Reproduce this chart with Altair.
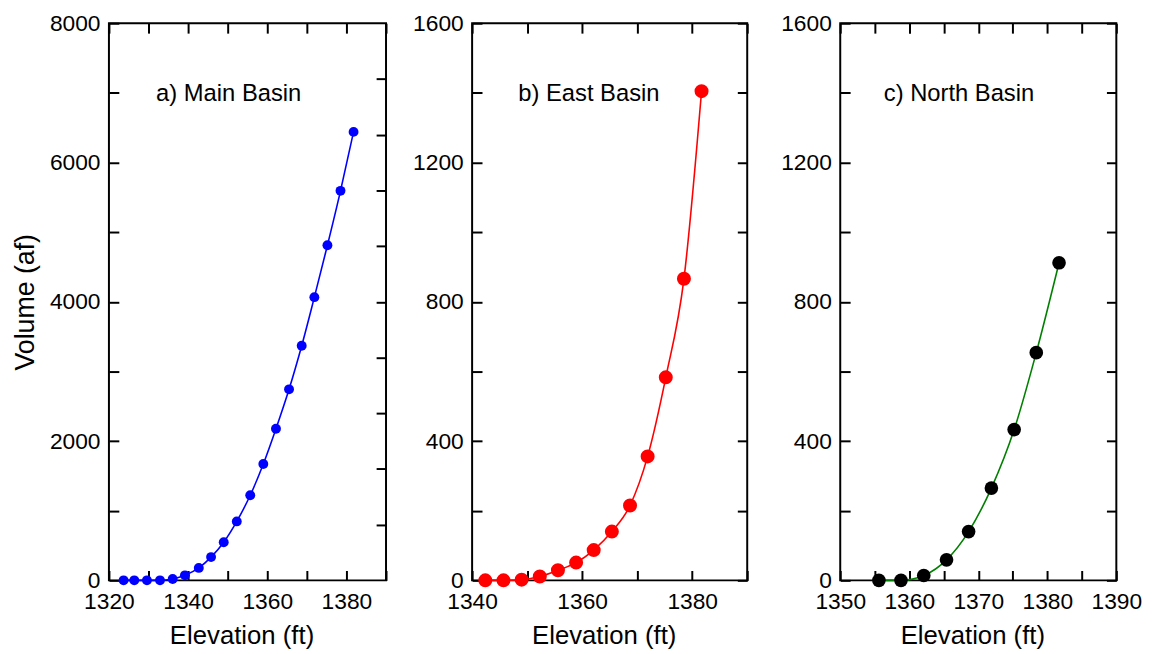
import altair as alt
import pandas as pd

# ---- data ----
main_elev = [1323.7, 1326.4, 1329.6, 1332.9, 1336.1, 1339.2, 1342.7, 1345.8, 1349.0,
             1352.3, 1355.7, 1359.0, 1362.2, 1365.5, 1368.7, 1371.9, 1375.2, 1378.5, 1381.8]
main_vol = [0, 0, 0, 0, 20, 72, 179, 334, 548, 847, 1222, 1670, 2177, 2743, 3369,
            4067, 4812, 5593, 6440]

east_elev = [1342.4, 1345.7, 1349.0, 1352.3, 1355.6, 1358.9, 1362.1, 1365.4, 1368.7,
             1371.9, 1375.2, 1378.5, 1381.7]
east_vol = [0, 0, 2, 11, 29, 51, 87, 140, 215, 356, 583, 866, 1405]

north_elev = [1355.6, 1358.8, 1362.1, 1365.4, 1368.6, 1371.9, 1375.2, 1378.4, 1381.7]
north_vol = [0, 0, 14, 59, 140, 265, 433, 654, 912]

panel_labels = ["a) Main Basin", "b) East Basin", "c) North Basin"]

x_title = "Elevation (ft)"
y_title = "Volume (af)"

FONT = "Liberation Sans"


def label_expr(labelled):
    arr = "[" + ",".join(str(v) for v in labelled) + "]"
    return f"indexof({arr}, datum.value) >= 0 ? datum.label : ''"


def make_axis(orient, values, labelled=None, title=None, labels=True, pad=8, tpad=8,
              title_size=27, title_x=None):
    kw = dict(
        orient=orient, values=values, domain=False, ticks=True, tickSize=10,
        offset=-10, tickColor="black", tickWidth=2, grid=False,
        labelFontSize=23, labelFont=FONT, labelColor="black", labelPadding=pad,
        labelFlush=False, labelOverlap=False, format="d",
        titleFontSize=title_size, titleFont=FONT, titleFontWeight="normal",
        titleColor="black", titlePadding=tpad,
    )
    if title_x is not None:
        kw["titleX"] = title_x
    if labels:
        kw["labelExpr"] = label_expr(labelled)
    else:
        kw["labels"] = False
    kw["title"] = title if title is not None else ""
    return alt.Axis(**kw)


def panel(elev, vol, label, line_color, point_color, point_size, width,
          xdom, xticks_b, xlabels, xticks_t, ydom, yticks_l, ylabels, yticks_r,
          ytitle, text_x):
    df = pd.DataFrame({"Elevation": elev, "Volume": vol})
    xs = alt.Scale(domain=xdom, nice=False, zero=False)
    ys = alt.Scale(domain=ydom, nice=False, zero=False)

    line = alt.Chart(df).mark_line(
        interpolate="monotone", color=line_color, strokeWidth=1.6
    ).encode(
        x=alt.X("Elevation:Q", scale=xs,
                axis=make_axis("bottom", xticks_b, xlabels, x_title, pad=10, tpad=10,
                               title_size=26, title_x=width / 2 - 6)),
        y=alt.Y("Volume:Q", scale=ys,
                axis=make_axis("left", yticks_l, ylabels, ytitle, pad=9, tpad=10)),
    )
    pts = alt.Chart(df).mark_circle(
        size=point_size, color=point_color, opacity=1
    ).encode(
        x=alt.X("Elevation:Q", scale=xs, axis=make_axis("top", xticks_t, labels=False)),
        y=alt.Y("Volume:Q", scale=ys, axis=make_axis("right", yticks_r, labels=False)),
    )
    txt = alt.Chart(pd.DataFrame({"t": [label]})).mark_text(
        fontSize=24, font=FONT, color="black", align="center", baseline="middle"
    ).encode(text="t:N", x=alt.value(text_x), y=alt.value(72))

    return alt.layer(line, pts, txt).resolve_axis(
        x="independent", y="independent"
    ).properties(width=width, height=563)


a = panel(main_elev, main_vol, panel_labels[0], "#0000ff", "#0000ff", 100, 280,
          [1320, 1390], list(range(1320, 1391, 10)), [1320, 1340, 1360, 1380],
          list(range(1320, 1391, 10)), [0, 8000],
          list(range(0, 8001, 1000)), [0, 2000, 4000, 6000, 8000],
          list(range(800, 8000, 800)), y_title, 121)

b = panel(east_elev, east_vol, panel_labels[1], "#ff0000", "#ff0000", 200, 278,
          [1340, 1390], list(range(1340, 1391, 10)), [1340, 1360, 1380],
          list(range(1340, 1391, 10)), [0, 1600],
          list(range(0, 1601, 200)), [0, 400, 800, 1200, 1600],
          list(range(0, 1601, 200)), None, 118)

c = panel(north_elev, north_vol, panel_labels[2], "#008000", "#000000", 190, 279,
          [1350, 1390], list(range(1350, 1391, 5)), [1350, 1360, 1370, 1380, 1390],
          list(range(1350, 1391, 5)), [0, 1600],
          list(range(0, 1601, 200)), [0, 400, 800, 1200, 1600],
          list(range(0, 1601, 200)), None, 120)

right_pair = alt.hconcat(b, c, spacing=94, bounds="flush")

chart = alt.hconcat(a, right_pair, spacing=87, bounds="flush").properties(
    padding={"left": 2, "top": 0, "right": 5, "bottom": 0}
).configure(background="white").configure_view(
    stroke="black", strokeWidth=2
)

chart.save("out.html", embed_options={"renderer": "svg", "actions": False})
